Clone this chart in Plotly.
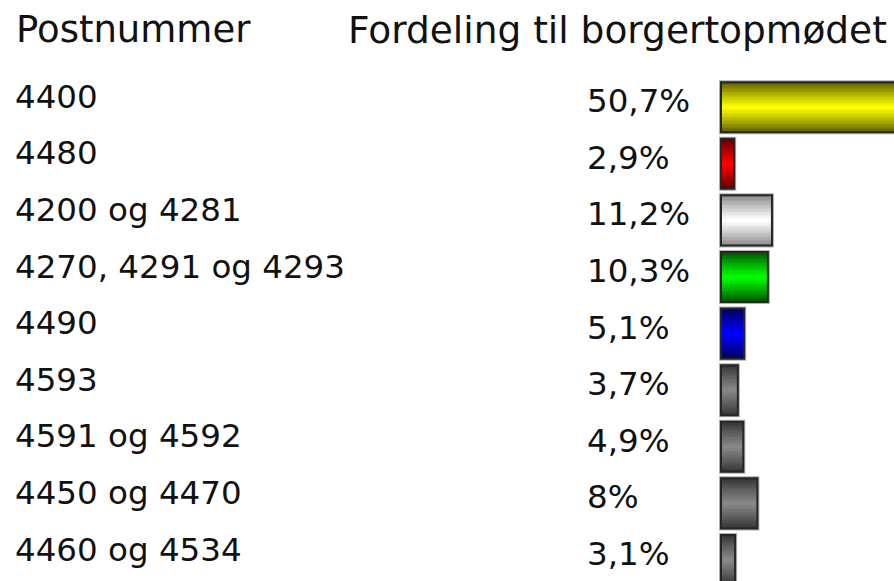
import plotly.graph_objects as go

# ---- data ----
postnumre = ["4400", "4480", "4200 og 4281", "4270, 4291 og 4293", "4490",
             "4593", "4591 og 4592", "4450 og 4470", "4460 og 4534"]
fordeling = [50.7, 2.9, 11.2, 10.3, 5.1, 3.7, 4.9, 8.0, 3.1]
header_left = "Postnummer"
header_right = "Fordeling til borgertopmødet"

# ---- style ----
edge_colors = ["#5e5e00", "#5a0000", "#8a8a8a", "#005200", "#000058",
               "#353535", "#353535", "#353535", "#353535"]
center_colors = ["#ffff00", "#ff0000", "#ffffff", "#00ff00", "#0000ff",
                 "#878787", "#878787", "#878787", "#878787"]

W, H = 894, 581
px_per_pct = 4.55
bar_left_px = 721
row_pitch = 56.6
first_row_px = 107.2
bar_thick = 0.885
FONT = "DejaVu Sans"


def hex2rgb(h):
    h = h.lstrip("#")
    return tuple(int(h[i:i + 2], 16) for i in (0, 2, 4))


def mix(c1, c2, t):
    a, b = hex2rgb(c1), hex2rgb(c2)
    return "rgb(%d,%d,%d)" % tuple(round(a[i] + (b[i] - a[i]) * t) for i in range(3))


ys = list(range(len(postnumre)))
fig = go.Figure()

# light outer fringe
fig.add_trace(go.Bar(x=fordeling, y=ys, orientation="h", width=bar_thick,
                     marker=dict(color="rgba(0,0,0,0)", line=dict(color="#b0b0b0", width=4)),
                     hoverinfo="skip", showlegend=False))

N = 18
for k in range(N):
    t = k / (N - 1)
    w = bar_thick * (1 - k / N)
    cols = [mix(e, c, t ** 0.9) for e, c in zip(edge_colors, center_colors)]
    fig.add_trace(go.Bar(x=fordeling, y=ys, orientation="h", width=w,
                         marker=dict(color=cols, line=dict(width=0)),
                         hoverinfo="skip", showlegend=False))

# dark outline
fig.add_trace(go.Bar(x=fordeling, y=ys, orientation="h", width=bar_thick,
                     marker=dict(color="rgba(0,0,0,0)", line=dict(color="#262626", width=2)),
                     hoverinfo="skip", showlegend=False))

annotations = []
for i, (lab, v) in enumerate(zip(postnumre, fordeling)):
    annotations.append(dict(x=13 / W, xref="paper", y=i, yref="y", text=lab,
                            xanchor="left", yanchor="middle", showarrow=False,
                            yshift=10.5, font=dict(family=FONT, size=32.5, color="#111")))
    pct = ("%g" % v).replace(".", ",") + "%"
    annotations.append(dict(x=585 / W, xref="paper", y=i, yref="y", text=pct,
                            xanchor="left", yanchor="middle", showarrow=False,
                            yshift=6, font=dict(family=FONT, size=32.5, color="#111")))

annotations.append(dict(x=14 / W, xref="paper", y=1 - 30 / H, yref="paper", text=header_left,
                        xanchor="left", yanchor="middle", showarrow=False,
                        font=dict(family=FONT, size=37, color="#111")))
annotations.append(dict(x=346 / W, xref="paper", y=1 - 30 / H, yref="paper", text=header_right,
                        xanchor="left", yanchor="middle", showarrow=False,
                        font=dict(family=FONT, size=37.5, color="#111")))

x0_px = 716
x_start = -(bar_left_px - x0_px) / px_per_pct
x_end = (W - bar_left_px) / px_per_pct
y_bottom = len(postnumre) - 1 + (H - (first_row_px + (len(postnumre) - 1) * row_pitch)) / row_pitch
y_top = -first_row_px / row_pitch

fig.update_layout(
    width=W, height=H,
    margin=dict(l=0, r=0, t=0, b=0),
    paper_bgcolor="white", plot_bgcolor="rgba(0,0,0,0)",
    barmode="overlay", bargap=0,
    showlegend=False,
    xaxis=dict(domain=[x0_px / W, 1], range=[x_start, x_end], visible=False, fixedrange=True),
    yaxis=dict(domain=[0, 1], range=[y_bottom, y_top], visible=False, fixedrange=True),
    annotations=annotations,
)

fig.write_html("out.html", config={"displayModeBar": False, "staticPlot": True},
               post_script="document.body.style.margin='0';document.body.style.overflow='hidden';")
